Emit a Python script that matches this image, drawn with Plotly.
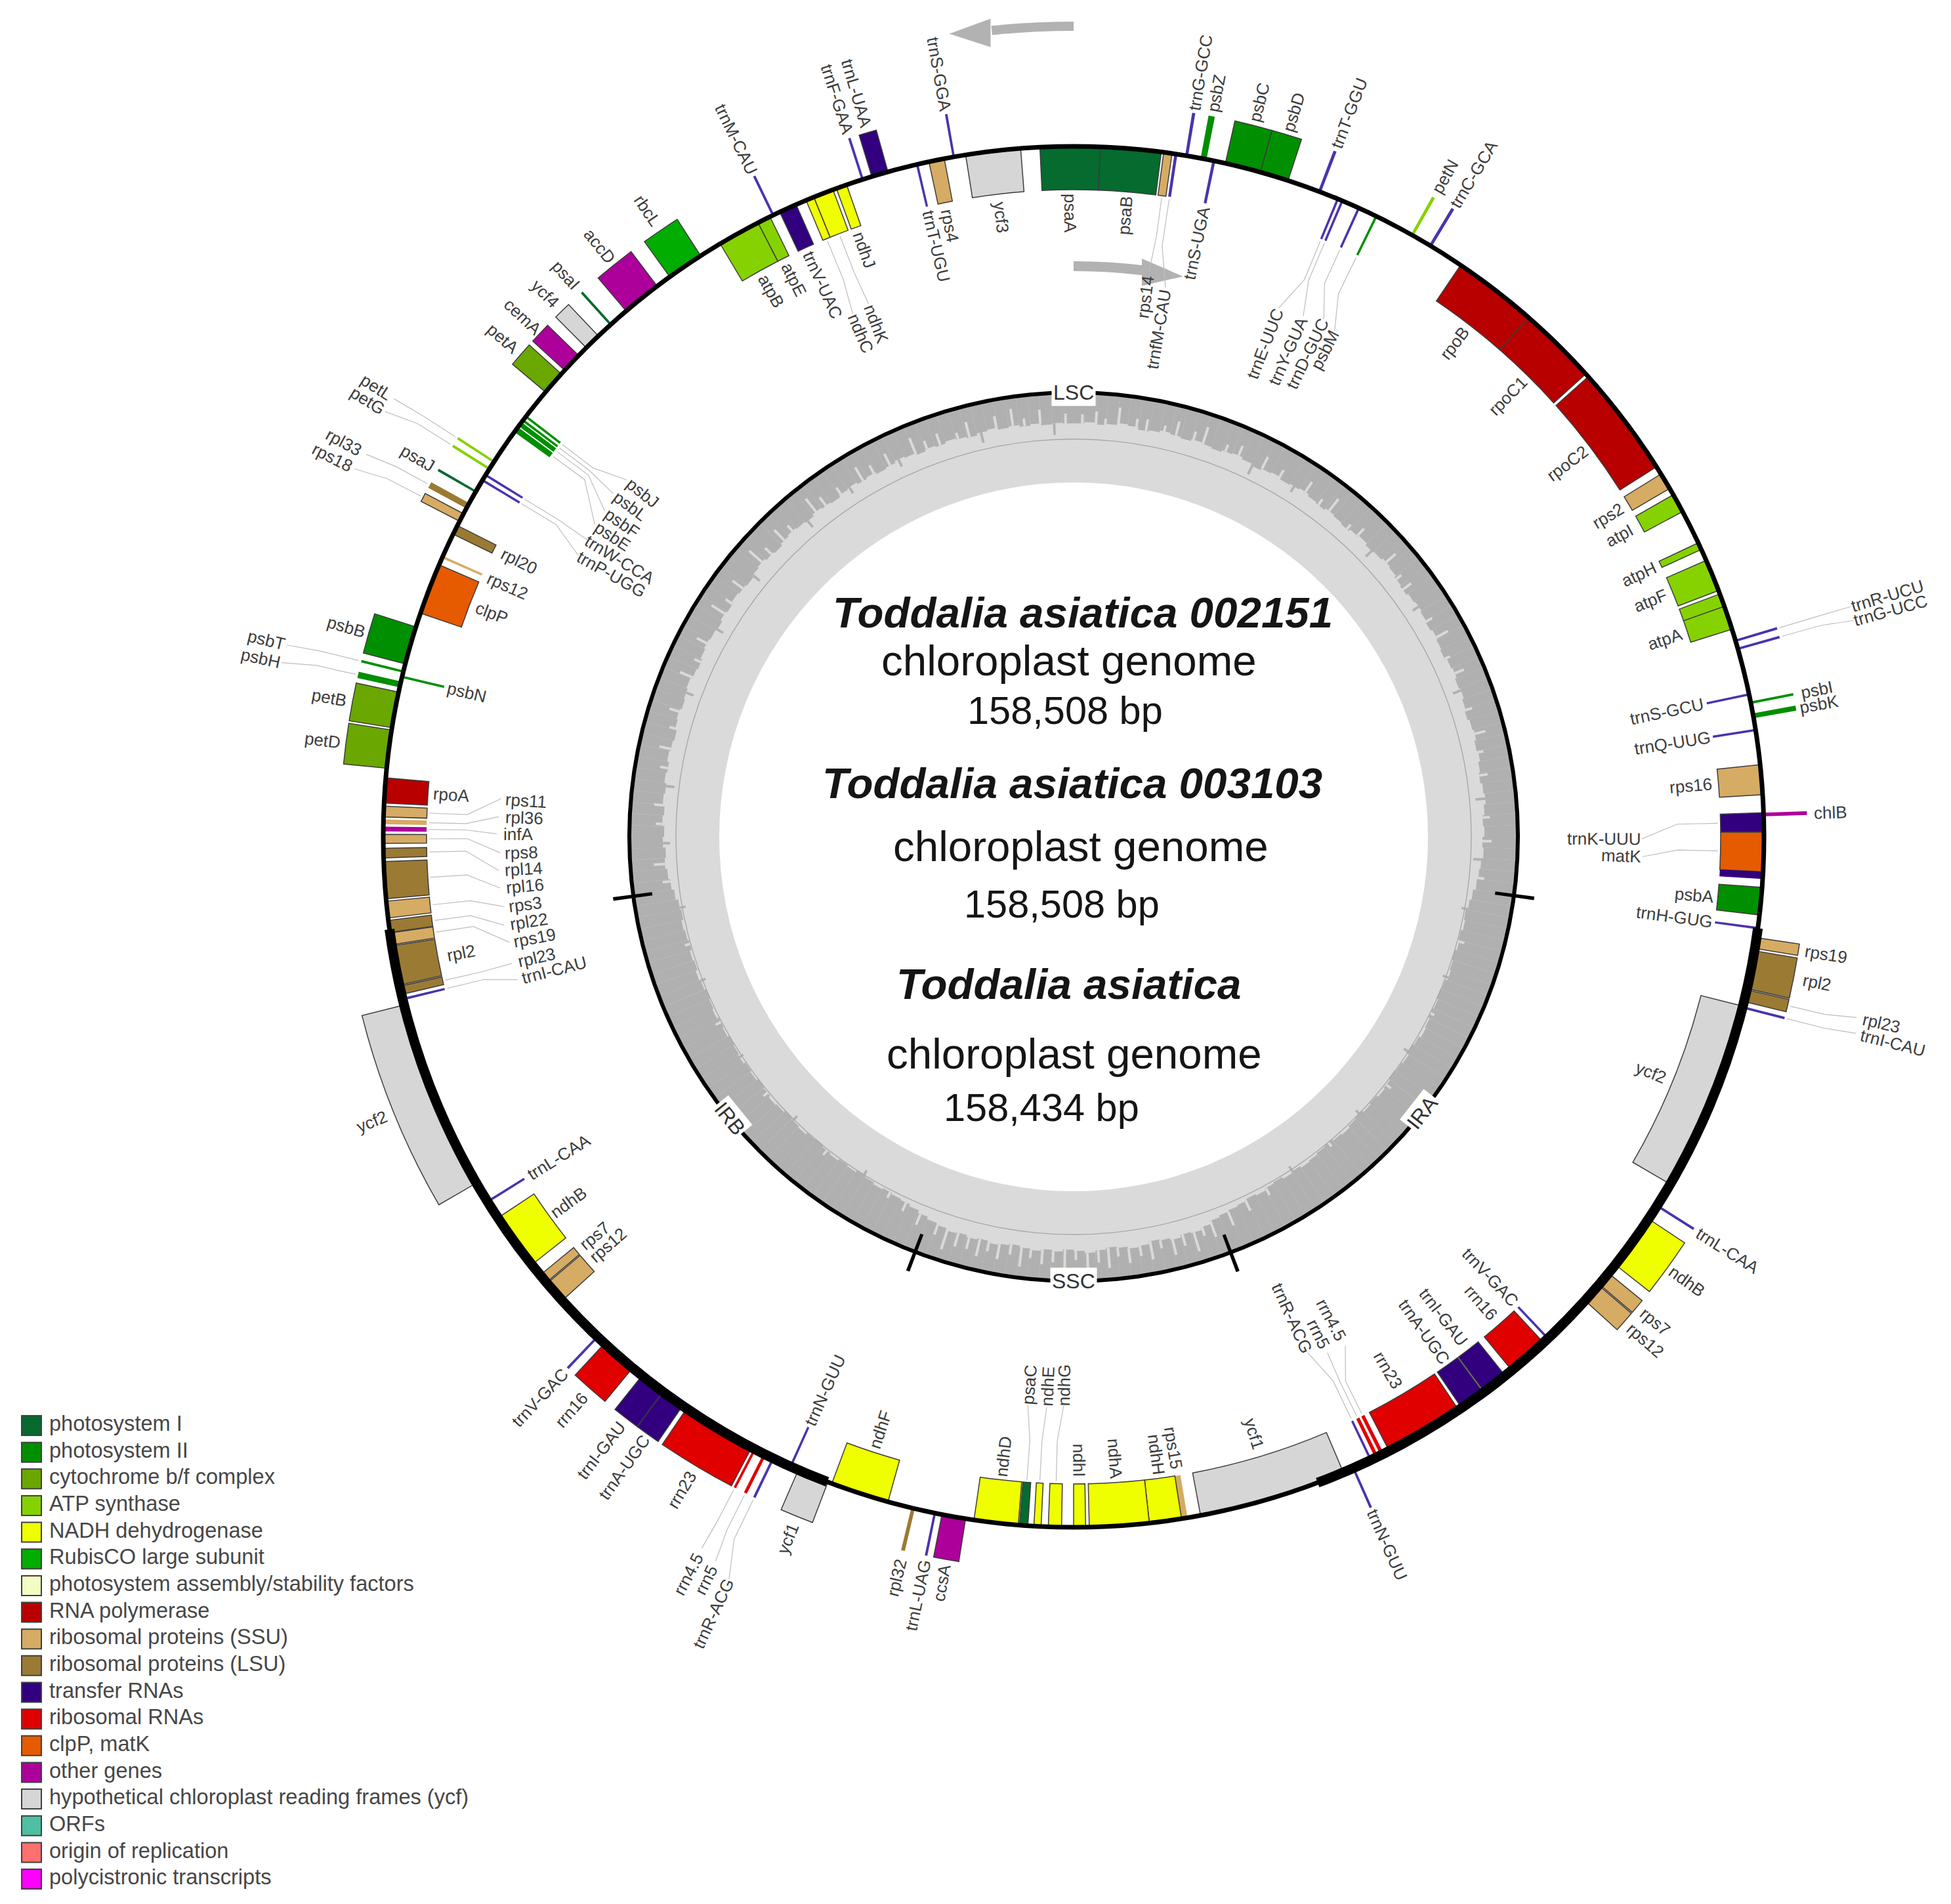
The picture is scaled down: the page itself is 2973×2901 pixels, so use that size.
import numpy as np
import plotly.graph_objects as go

# page and ring geometry, in pixels
W, H = 2973, 2901
CX, CY = 1636, 1275
RING = 1052
GENE_H = 66
GC_OUT, GC_IN, GC_MID = 677, 540, 606

# legend
legend_names = ['photosystem I', 'photosystem II', 'cytochrome b/f complex', 'ATP synthase',
                'NADH dehydrogenase', 'RubisCO large subunit', 'photosystem assembly/stability factors',
                'RNA polymerase', 'ribosomal proteins (SSU)', 'ribosomal proteins (LSU)', 'transfer RNAs',
                'ribosomal RNAs', 'clpP, matK', 'other genes', 'hypothetical chloroplast reading frames (ycf)',
                'ORFs', 'origin of replication', 'polycistronic transcripts']
legend_colors = ['#056b2f', '#008f00', '#6aa700', '#86d200', '#f0ff00', '#00ad00', '#f4fcc4', '#b80000',
                 '#d6ab63', '#9b7a33', '#32007f', '#e00000', '#e65a00', '#ad009b', '#d6d6d6', '#4dbfa3',
                 '#ff6f6f', '#ff00ff']
group_colors = {'PSI': '#056b2f', 'PSII': '#008f00', 'CYT': '#6aa700', 'ATP': '#86d200', 'NDH': '#f0ff00',
                'RBC': '#00ad00', 'RNAP': '#b80000', 'SSU': '#d6ab63', 'LSU': '#9b7a33', 'TRNA': '#32007f',
                'RRNA': '#e00000', 'CLP': '#e65a00', 'OTHER': '#ad009b', 'YCF': '#d6d6d6'}

# genes, clockwise from the top, angles in degrees. side: 1 outside the ring, -1 inside
gene_name = ['psaB', 'rps14', 'trnfM-CAU', 'trnG-GCC', 'psbZ', 'trnS-UGA', 'psbC', 'psbD', 'trnT-GGU', 'trnE-UUC',
             'trnY-GUA', 'trnD-GUC', 'psbM', 'petN', 'trnC-GCA', 'rpoB', 'rpoC1', 'rpoC2', 'rps2', 'atpI',
             'atpH', 'atpF', '', 'atpA', 'trnR-UCU', 'trnG-UCC', 'trnS-GCU', 'psbI', 'psbK', 'trnQ-UUG',
             'rps16', 'chlB', 'trnK-UUU', 'matK', '', 'psbA', 'trnH-GUG', 'rps19', 'rpl2', 'rpl23',
             'trnI-CAU', 'ycf2', 'trnL-CAA', 'ndhB', 'rps7', 'rps12', 'trnV-GAC', 'rrn16', 'trnI-GAU', 'trnA-UGC',
             'rrn23', 'rrn4.5', 'rrn5', 'trnR-ACG', 'trnN-GUU', 'ycf1', 'rps15', 'ndhH', 'ndhA', 'ndhI',
             'ndhG', 'ndhE', 'psaC', 'ndhD', 'ccsA', 'trnL-UAG', 'rpl32', 'ndhF', 'ycf1', 'trnN-GUU',
             'trnR-ACG', 'rrn5', 'rrn4.5', 'rrn23', 'trnA-UGC', 'trnI-GAU', 'rrn16', 'trnV-GAC', 'rps12', 'rps7',
             'ndhB', 'trnL-CAA', 'ycf2', 'trnI-CAU', 'rpl23', 'rpl2', 'rps19', 'rpl22', 'rps3', 'rpl16',
             'rpl14', 'rps8', 'infA', 'rpl36', 'rps11', 'rpoA', 'petD', 'petB', 'psbH', 'psbN',
             'psbT', 'psbB', 'clpP', 'rps12', 'rpl20', 'rps18', 'rpl33', 'psaJ', 'trnP-UGG', 'trnW-CCA',
             'petG', 'petL', 'psbE', 'psbF', 'psbL', 'psbJ', 'petA', 'cemA', 'ycf4', 'psaI',
             'accD', 'rbcL', 'atpB', 'atpE', 'trnM-CAU', 'trnV-UAC', 'ndhC', 'ndhK', 'ndhJ', 'trnF-GAA',
             'trnL-UAA', 'trnT-UGU', 'rps4', 'trnS-GGA', 'ycf3', 'psaA']
gene_start = [2.2, 7.5, 8.4, 9.3, 10.6, 11.6, 12.7, 15.7, 20.75, 22.4,
              22.8, 24.3, 25.9, 29.25, 31, 34.1, 41.2, 48.2, 58.3, 60.3,
              64.8, 66.4, 69.4, 70.5, 73.4, 74.1, 78, 78.7, 79.7, 81,
              84, 88, 88, 89.6, 92.9, 94.2, 97.5, 98.4, 99.5, 102.8,
              104.2, 104.2, 122.2, 123.6, 129.2, 130.5, 136.5, 137.1, 141.3, 143.6,
              146.1, 153.3, 153.8, 154.4, 156, 157, 170.5, 171, 173.7, 179,
              181, 182.7, 183.8, 184.6, 189, 191.5, 193.3, 195.6, 200.85, 204.1,
              205.7, 206.45, 207.4, 207.8, 214.5, 216.5, 219.7, 223.5, 227.8, 229.8,
              231.7, 238, 239.9, 256.3, 256.8, 257.6, 261, 262.05, 263.25, 264.85,
              268.25, 269.45, 270.45, 271.05, 271.65, 272.8, 275.7, 279.1, 282.5, 283.3,
              283.75, 284.5, 288.9, 293.8, 296, 297.2, 298.4, 299.9, 301, 301.5,
              302.1, 302.8, 305.9, 306.5, 307, 307.4, 310.1, 312.5, 315.1, 317.8,
              319.6, 324.2, 329.2, 332.8, 334.1, 334.8, 337.2, 337.9, 339.9, 342.1,
              343, 346.8, 347.9, 349.9, 351, 357.2]
gene_end = [7.3, 8.2, 8.65, 9.55, 11.1, 11.85, 15.7, 18.1, 21, 22.6,
            23, 24.5, 26.1, 29.5, 31.25, 41.2, 47.9, 57.6, 59.7, 61.9,
            65.4, 69.1, 70.5, 72.5, 73.6, 74.3, 78.2, 78.9, 80.1, 81.2,
            86.5, 88.3, 89.6, 92.9, 93.5, 96.5, 97.7, 99.3, 102.7, 103.8,
            104.4, 120.2, 122.4, 128.3, 130.4, 132.2, 136.7, 140.6, 143.5, 145.8,
            152.8, 153.6, 154.1, 154.6, 156.2, 169.4, 171, 173.7, 178.7, 180,
            182.1, 183.3, 184.5, 188.3, 191, 191.7, 193.6, 200.5, 203.5, 204.3,
            205.9, 206.7, 207.6, 214.1, 216.5, 218.7, 222.8, 223.7, 229.7, 230.6,
            236.5, 238.2, 255.9, 256.5, 257.5, 260.9, 262, 263.05, 264.65, 267.95,
            269.05, 270.2, 270.85, 271.45, 272.55, 274.9, 278.9, 282.1, 283, 283.5,
            283.95, 287.7, 293.2, 294, 296.8, 297.9, 298.9, 300.1, 301.2, 301.7,
            302.3, 303, 306.4, 306.9, 307.2, 307.6, 312.1, 314.2, 316.5, 318,
            322.9, 327.3, 332.8, 333.9, 334.3, 336.3, 337.9, 339.6, 340.8, 342.3,
            344.4, 347, 349.2, 350.1, 355.6, 362.2]
gene_side = [-1, -1, -1, 1, 1, -1, 1, 1, 1, -1,
             -1, -1, -1, 1, 1, -1, -1, -1, -1, -1,
             -1, -1, -1, -1, 1, 1, -1, 1, 1, -1,
             -1, 1, -1, -1, -1, -1, -1, 1, 1, 1,
             1, -1, 1, 1, 1, 1, -1, -1, -1, -1,
             -1, -1, -1, -1, 1, -1, -1, -1, -1, -1,
             -1, -1, -1, -1, 1, 1, 1, -1, 1, -1,
             1, 1, 1, 1, 1, 1, 1, 1, -1, -1,
             -1, -1, 1, -1, -1, -1, -1, -1, -1, -1,
             -1, -1, -1, -1, -1, -1, 1, 1, 1, -1,
             1, 1, -1, -1, -1, 1, 1, 1, -1, -1,
             1, 1, -1, -1, -1, -1, 1, 1, 1, 1,
             1, 1, -1, -1, 1, -1, -1, -1, -1, 1,
             1, -1, -1, 1, -1, -1]
gene_group = ['PSI', 'SSU', 'TRNA', 'TRNA', 'PSII', 'TRNA', 'PSII', 'PSII', 'TRNA', 'TRNA',
              'TRNA', 'TRNA', 'PSII', 'ATP', 'TRNA', 'RNAP', 'RNAP', 'RNAP', 'SSU', 'ATP',
              'ATP', 'ATP', 'ATP', 'ATP', 'TRNA', 'TRNA', 'TRNA', 'PSII', 'PSII', 'TRNA',
              'SSU', 'OTHER', 'TRNA', 'CLP', 'TRNA', 'PSII', 'TRNA', 'SSU', 'LSU', 'LSU',
              'TRNA', 'YCF', 'TRNA', 'NDH', 'SSU', 'SSU', 'TRNA', 'RRNA', 'TRNA', 'TRNA',
              'RRNA', 'RRNA', 'RRNA', 'TRNA', 'TRNA', 'YCF', 'SSU', 'NDH', 'NDH', 'NDH',
              'NDH', 'NDH', 'PSI', 'NDH', 'OTHER', 'TRNA', 'LSU', 'NDH', 'YCF', 'TRNA',
              'TRNA', 'RRNA', 'RRNA', 'RRNA', 'TRNA', 'TRNA', 'RRNA', 'TRNA', 'SSU', 'SSU',
              'NDH', 'TRNA', 'YCF', 'TRNA', 'LSU', 'LSU', 'SSU', 'LSU', 'SSU', 'LSU',
              'LSU', 'SSU', 'OTHER', 'SSU', 'SSU', 'RNAP', 'CYT', 'CYT', 'PSII', 'PSII',
              'PSII', 'PSII', 'CLP', 'SSU', 'LSU', 'SSU', 'LSU', 'PSI', 'TRNA', 'TRNA',
              'ATP', 'ATP', 'PSII', 'PSII', 'PSII', 'PSII', 'CYT', 'OTHER', 'YCF', 'PSI',
              'OTHER', 'RBC', 'ATP', 'ATP', 'TRNA', 'TRNA', 'NDH', 'NDH', 'NDH', 'TRNA',
              'TRNA', 'TRNA', 'SSU', 'TRNA', 'YCF', 'PSI']

# labels that sit away from their gene, joined by a grey leader
leader_name = ['rps14', 'trnfM-CAU', 'ndhK', 'ndhC', 'trnE-UUC', 'trnY-GUA', 'trnD-GUC', 'psbM',
               'trnR-UCU', 'trnG-UCC', 'trnK-UUU', 'matK', 'rpl23', 'trnI-CAU',
               'rrn4.5', 'rrn5', 'trnR-ACG', 'psaC', 'ndhE', 'ndhG',
               'rrn4.5', 'rrn5', 'trnR-ACG', 'psbT', 'psbH',
               'rps11', 'rpl36', 'infA', 'rps8', 'rpl14', 'rpl16', 'rps3', 'rpl22', 'rps19', 'rpl23', 'trnI-CAU',
               'petL', 'petG', 'rpl33', 'rps18', 'psbJ', 'psbL', 'psbF', 'psbE', 'trnW-CCA', 'trnP-UGG']
leader_theta = [7.6, 9.5, 338.95, 337.1, 21.2, 23.8, 25.8, 27.3,
                73.5, 74.5, 90.2, 92, 103, 104.1,
                151.9, 153.8, 155.6, 184.6, 182.7, 181,
                207.6, 206.3, 204.9, 283.7, 282.4,
                273.8, 272, 270.3, 268.4, 266.65, 264.9, 263, 261.2, 259.4, 257.3, 255.6,
                302.8, 301.7, 298.4, 297.1, 308.6, 306.7, 304.8, 303.1, 301.4, 299.6]
leader_r = [830, 784, 838, 833, 806, 809, 818, 835,
            1293, 1292, 808, 835, 1263, 1287,
            834, 844, 805, 837, 838, 835,
            1268, 1263, 1305, 1266, 1268,
            836, 838, 847, 842, 839, 839, 842, 840, 836, 839, 817,
            1264, 1265, 1264, 1269, 840, 843, 838, 839, 810, 810]

# region boundaries on the inner circle
ir_start = [97.6, 200.9]
ir_end = [159.3, 262.3]
boundary_theta = [97.6, 159.3, 200.9, 262.3]
region_names = ['LSC', 'IRA', 'SSC', 'IRB']
region_theta = [0, 128.3, 180, 230.7]
region_angle = [0, -52, 0, 51]

# GC content, radius of the dark band edge read around the circle
gc_edge = [630, 632, 629, 631, 634, 632, 628, 630, 633, 631, 629, 632, 630, 628, 631, 633, 630, 627, 630, 632,
           629, 631, 633, 630, 628, 631, 629, 627, 630, 632, 629, 631, 634, 632, 629, 627, 630, 632, 630, 628,
           631, 629, 627, 630, 632, 629, 631, 628, 626, 629, 631, 628, 630, 627, 625, 628, 630, 627, 624, 626,
           623, 625, 622, 620, 618,
           614, 611, 608, 610, 607, 609, 606, 608, 610, 607, 605, 608, 606, 609, 611, 608, 606, 609, 607, 605,
           608, 610, 607, 609, 606, 608, 611, 609, 606, 608, 610, 612, 609, 611, 608, 610, 613, 611, 614, 616,
           618, 621,
           626, 630, 628, 632, 629, 627, 631, 633, 630, 628, 631, 634, 631, 629, 632, 630, 633, 631, 628, 630,
           632, 629, 631, 628, 630, 627, 624,
           620, 616, 613, 611, 609, 611, 608, 606, 609, 607, 610, 608, 605, 607, 610, 608, 606, 609, 611, 608,
           606, 609, 607, 610, 608, 606, 609, 607, 610, 608, 606, 609, 611, 608, 610, 607, 609, 611, 608, 610, 614,
           618, 621, 624, 622, 626, 624, 627, 625, 628, 626, 629, 627, 630, 628, 626, 629, 631, 628, 630, 632,
           629, 627, 630, 632, 630, 628, 631, 629, 632, 630, 628, 631, 633, 630, 628, 631, 633, 631, 629, 632,
           630, 628, 631, 633, 630, 632, 629, 631, 634, 632, 629, 632, 630, 633, 631, 629, 632, 634, 631, 633,
           630, 632, 629, 631, 630]

# fine spikes off that edge: positive reach into the dark band, negative into the light one
spike_theta = [1.2, 3.1, 4.4, 6.2, 8.7, 10.1, 12.6, 14.3, 16.8, 18.2, 21.5, 23.4, 25.7, 27.1, 29.8, 32.2, 33.9, 36.4,
               38.1, 41.6, 43.3, 46.2, 48.7, 51.4, 53.1, 56.3, 58.6, 61.2, 64.4, 66.8, 69.3, 72.1, 75.6, 78.2, 81.4,
               84.7, 87.3, 90.6, 93.2, 95.8,
               100.4, 105.2, 110.6, 116.3, 122.7, 128.4, 134.1, 140.2, 146.8, 151.3, 154.7, 157.6,
               160.4, 161.8, 163.1, 164.7, 166.2, 167.9, 169.3, 170.8, 172.4, 173.9, 175.2, 176.6, 178.1, 179.7,
               181.2, 182.8, 184.3, 185.9, 187.2, 188.7, 190.3, 191.8, 193.1, 194.6, 196.2, 197.8, 199.3,
               202.1, 204.6, 207.3, 211.8, 218.2, 224.7, 230.1, 236.6, 242.3, 248.9, 254.4, 259.8,
               263.7, 266.2, 269.1, 271.8, 274.4, 277.1, 279.6, 282.3, 285.2, 287.6, 290.4, 292.7, 295.1, 297.8,
               300.2, 302.6, 304.3, 306.9, 309.2, 311.4, 313.1, 315.7, 317.4, 319.9, 321.6, 323.2, 325.8, 327.3,
               329.4, 331.2, 333.7, 335.1, 337.6, 339.3, 341.2, 343.8, 345.4, 347.1, 349.3, 351.6, 353.2, 355.4,
               357.3, 358.9]
spike_len = [14, 20, 10, 24, 12, 18, 9, 22, 13, 27, 11, 16, -14, 20, 12, -10, 18, 11,
             23, 9, 15, -12, 19, 10, 16, -11, 12, 20, 9, 15, -13, 12, 17, 8, 13,
             -15, 11, 14, -12, 9,
             -10, 8, -9, 7, -8, 9, -7, 8, -9, 12, 16, 22,
             26, 14, 30, 18, 24, 12, 28, 16, 22, 13, 31, 19, 25, 14,
             28, 17, 23, 12, 29, 16, 24, 13, 27, 18, 22, 30, 15,
             18, 14, 10, -8, 9, -9, 8, -7, 9, -8, 8, -9,
             12, 17, -11, 10, 16, -13, 12, 18, 9, 15, -12, 21, 11, 17,
             -10, 24, 13, 20, -14, 26, 14, 22, 11, -12, 25, 16, 12, -11,
             24, 14, 20, -12, 28, 13, 19, 10, 24, -16, 18, 26, 12, 21,
             -18, 15]

# centre text
title_lines = ['<b><i>Toddalia asiatica 002151</i></b>', 'chloroplast genome', '158,508 bp',
               '<b><i>Toddalia asiatica 003103</i></b>', 'chloroplast genome', '158,508 bp',
               '<b><i>Toddalia asiatica</i></b>', 'chloroplast genome', '158,434 bp']
title_x = [1650, 1629, 1623, 1634, 1647, 1618, 1628, 1637, 1587]
title_y = [933, 1006, 1082, 1193, 1289, 1377, 1499, 1605, 1687]
title_size = [65.5, 65.5, 59.5, 65.5, 65.5, 59.5, 65.5, 65.5, 59.5]

# direction arrows (degrees, radius)
arrow_top_shaft = [354.2, 360]
arrow_top_head_theta = [354.2, 354.0, 351.2]
arrow_top_head_r = [1253, 1210, 1238]
arrow_in_shaft = [0, 6.9]
arrow_in_head_theta = [6.73, 7.06, 11.06]
arrow_in_head_r = [887, 846, 870]

LABEL_FONT = dict(family='Liberation Sans, Arial', size=26, color='#3d3d3d')
GREY = '#b2b2b2'
GC_LIGHT, GC_DARK = '#dadada', '#b0b0b0'
THIN_TRNA = '#4b33ad'


def arc_bars(starts, ends, r_in, r_out, color):
    # a run of annulus pieces, split so that no bar spans the whole circle
    th, wd = [], []
    for a, b in zip(starts, ends):
        parts = max(1, int((b - a) // 120) + 1)
        step = (b - a) / parts
        for k in range(parts):
            th.append(a + step * (k + 0.5))
            wd.append(step)
    return go.Barpolar(theta=th, width=wd, base=[r_in] * len(th), r=[r_out - r_in] * len(th),
                       marker=dict(color=color, line=dict(width=0)), hoverinfo='skip', showlegend=False)


def xy(theta, r):
    t = np.radians(theta)
    return CX + r * np.sin(t), CY - r * np.cos(t)


def text_angle(theta):
    theta = theta % 360
    return theta - 90 if theta < 180 else theta - 270


def text_width(name):
    return 0.5 * LABEL_FONT['size'] * len(name)


fig = go.Figure()

# GC plot
fig.add_trace(arc_bars([0], [360], GC_IN, GC_OUT, GC_LIGHT))
step = 360 / len(gc_edge)
fig.add_trace(go.Barpolar(theta=[(i + 0.5) * step for i in range(len(gc_edge))], width=[step] * len(gc_edge),
                          base=gc_edge, r=[GC_OUT - v for v in gc_edge],
                          marker=dict(color=GC_DARK, line=dict(width=0)), hoverinfo='skip', showlegend=False))
spike_edge = [gc_edge[int(t / step)] for t in spike_theta]
fig.add_trace(go.Barpolar(theta=spike_theta, width=[0.35] * len(spike_theta),
                          base=[e + min(s, 0) for e, s in zip(spike_edge, spike_len)],
                          r=[abs(s) for s in spike_len],
                          marker=dict(color=[GC_LIGHT if s > 0 else GC_DARK for s in spike_len], line=dict(width=0)),
                          hoverinfo='skip', showlegend=False))
fig.add_trace(arc_bars([0], [360], GC_MID - 0.7, GC_MID + 0.7, '#a8a8a8'))
fig.add_trace(arc_bars([0], [360], GC_OUT - 3, GC_OUT + 3, 'black'))
fig.add_trace(go.Barpolar(theta=boundary_theta, width=[0.45] * 4, base=[648] * 4, r=[60] * 4,
                          marker=dict(color='black', line=dict(width=0)), hoverinfo='skip', showlegend=False))

# direction arrows
fig.add_trace(arc_bars([arrow_top_shaft[0]], [arrow_top_shaft[1]], 1228, 1242, GREY))
fig.add_trace(go.Scatterpolar(theta=arrow_top_head_theta, r=arrow_top_head_r, mode='lines', fill='toself',
                              fillcolor=GREY, line=dict(width=0), hoverinfo='skip', showlegend=False))
fig.add_trace(arc_bars([arrow_in_shaft[0]], [arrow_in_shaft[1]], 862, 877, GREY))
fig.add_trace(go.Scatterpolar(theta=arrow_in_head_theta, r=arrow_in_head_r, mode='lines', fill='toself',
                              fillcolor=GREY, line=dict(width=0), hoverinfo='skip', showlegend=False))

# genes
centres = [(a + b) / 2 for a, b in zip(gene_start, gene_end)]
widths = [b - a for a, b in zip(gene_start, gene_end)]
bases = [RING if s > 0 else RING - GENE_H for s in gene_side]
colors = [THIN_TRNA if g == 'TRNA' and w < 0.3 else group_colors[g] for g, w in zip(gene_group, widths)]
fig.add_trace(go.Barpolar(theta=centres, width=widths, base=bases, r=[GENE_H] * len(centres),
                          marker=dict(color=colors,
                                      line=dict(color='#3c3c3c', width=[1.5 if w > 0.6 else 0 for w in widths])),
                          hoverinfo='skip', showlegend=False))

# ring, thin with the two thick inverted repeats
fig.add_trace(arc_bars([0], [360], RING - 3.5, RING + 3.5, 'black'))
fig.add_trace(arc_bars(ir_start, ir_end, RING - 7.5, RING + 7.5, 'black'))

# gene labels and leaders
leader_lookup = {}
for name, th, r in zip(leader_name, leader_theta, leader_r):
    hits = [i for i, n in enumerate(gene_name) if n == name]
    best = min(hits, key=lambda i: abs((centres[i] - th + 180) % 360 - 180))
    leader_lookup[best] = (th, r)

line_th, line_r = [], []
annotations = []
for i, name in enumerate(gene_name):
    if not name:
        continue
    tip = RING + gene_side[i] * GENE_H
    half = text_width(name) / 2
    if i in leader_lookup:
        th, r = leader_lookup[i]
        side = 1 if r > RING else -1
        end_r = r - side * (half + 6)
        line_th += [centres[i], centres[i], th, None]
        line_r += [tip + side * 4, tip + side * 0.55 * abs(end_r - tip), end_r, None]
    else:
        th = centres[i] % 360
        r = tip + gene_side[i] * (10 + half)
    x, y = xy(th, r)
    annotations.append(dict(x=x, y=y, xref='x', yref='y', text=name, showarrow=False, textangle=text_angle(th),
                            font=LABEL_FONT, xanchor='center', yanchor='middle'))

fig.add_trace(go.Scatterpolar(theta=line_th, r=line_r, mode='lines', line=dict(color='#bdbdbd', width=1.2),
                              connectgaps=False, hoverinfo='skip', showlegend=False))

# region tags on the inner circle
for name, th, ang in zip(region_names, region_theta, region_angle):
    x, y = xy(th, GC_OUT)
    annotations.append(dict(x=x, y=y, xref='x', yref='y', text=name, showarrow=False, textangle=ang,
                            font=dict(family='Liberation Sans, Arial', size=32, color='#333333'),
                            bgcolor='white', borderpad=2, xanchor='center', yanchor='middle'))

# centre text
for text, x, y, size in zip(title_lines, title_x, title_y, title_size):
    annotations.append(dict(x=x, y=y, xref='x', yref='y', text=text, showarrow=False,
                            font=dict(family='Liberation Sans, Arial', size=size, color='#151515'),
                            xanchor='center', yanchor='middle'))

# legend
legend_y = [2172 + i * 40.65 for i in range(len(legend_names))]
fig.add_trace(go.Scatter(x=[48] * len(legend_names), y=legend_y, mode='markers',
                         marker=dict(symbol='square', size=30, color=legend_colors,
                                     line=dict(color='#404040', width=2)),
                         hoverinfo='skip', showlegend=False))
fig.add_trace(go.Scatter(x=[75] * len(legend_names), y=legend_y, mode='text', text=legend_names,
                         textposition='middle right',
                         textfont=dict(family='Liberation Sans, Arial', size=32.6, color='#474747'),
                         hoverinfo='skip', showlegend=False))

fig.update_layout(
    width=W, height=H, margin=dict(l=0, r=0, t=0, b=0, pad=0),
    paper_bgcolor='white', plot_bgcolor='white', showlegend=False,
    xaxis=dict(range=[0, W], visible=False, domain=[0, 1], fixedrange=True),
    yaxis=dict(range=[H, 0], visible=False, domain=[0, 1], fixedrange=True),
    polar=dict(
        domain=dict(x=[(CX - CY) / W, (CX + CY) / W], y=[(H - 2 * CY) / H, 1]),
        bgcolor='rgba(0,0,0,0)', barmode='overlay', bargap=0,
        radialaxis=dict(range=[0, CY], visible=False),
        angularaxis=dict(direction='clockwise', rotation=90, visible=False, thetaunit='degrees'),
    ),
    annotations=annotations,
)

fig.write_html("out.html", config={'displayModeBar': False},
               post_script="document.body.style.margin='0';")
